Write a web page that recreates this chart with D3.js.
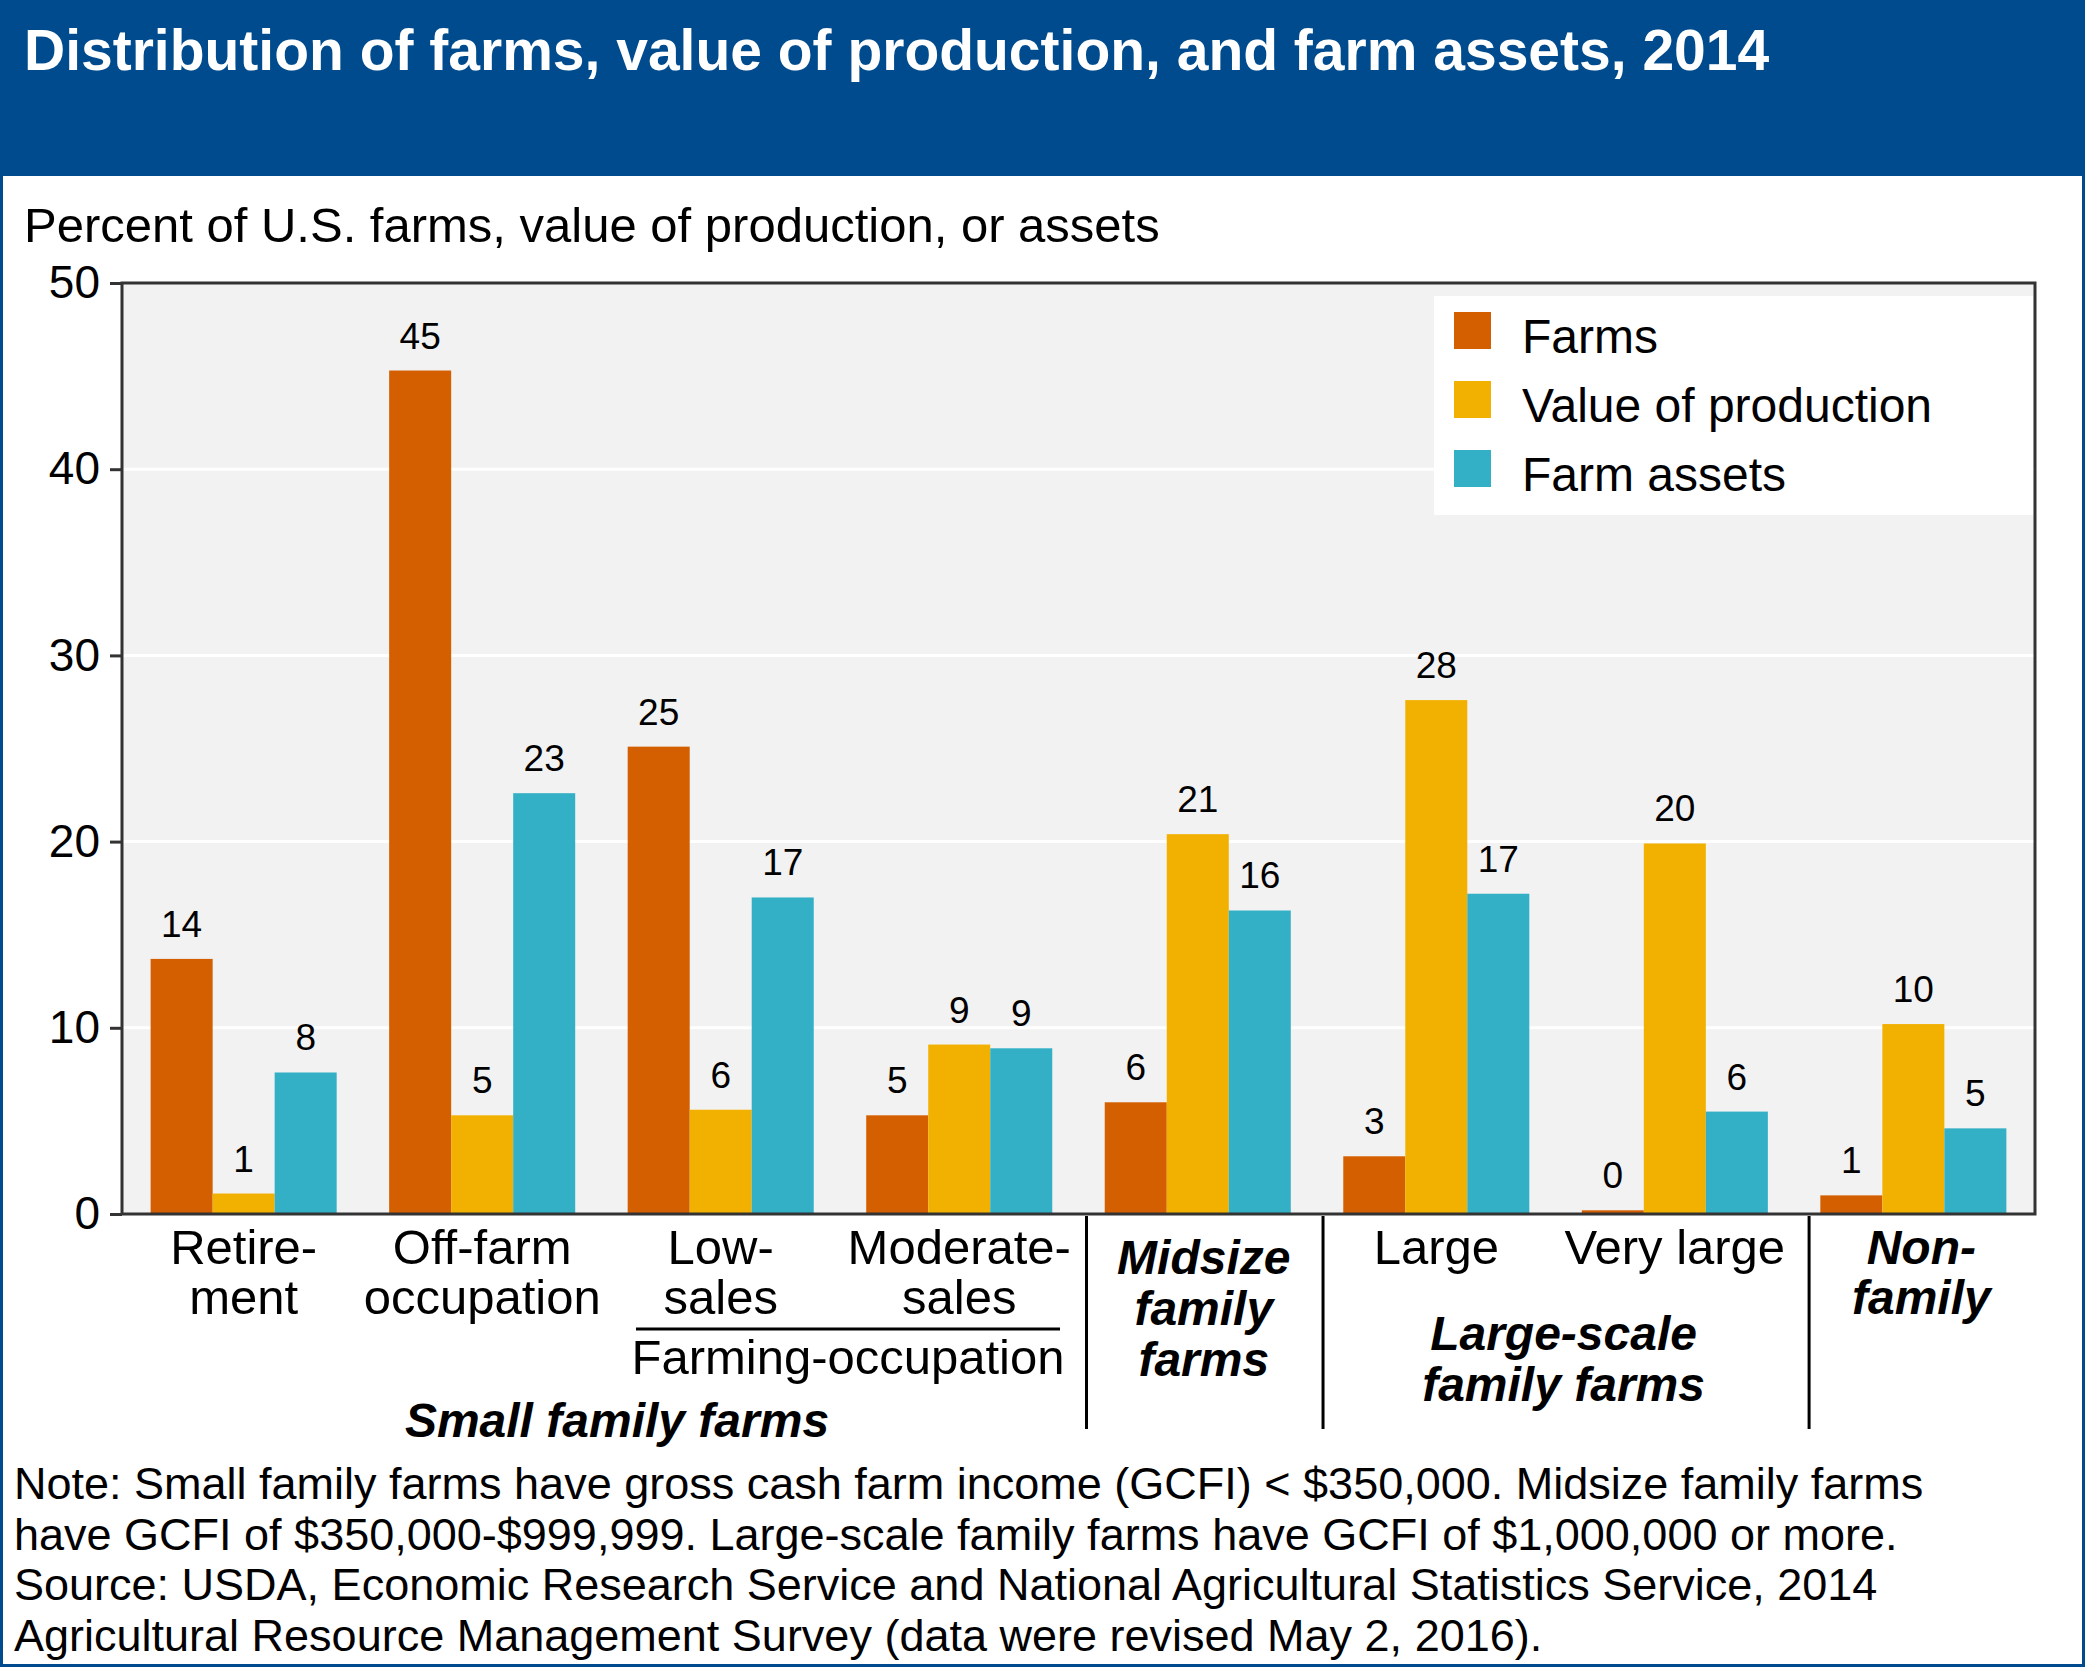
<!DOCTYPE html>
<html><head><meta charset="utf-8">
<script src="https://cdn.jsdelivr.net/npm/d3@7"></script>
<style>body{margin:0;background:#fff}text{font-family:"Liberation Sans",Arial,sans-serif}</style>
</head><body><svg id="c" width="2085" height="1667"></svg>
<script>
const categories=["Retirement","Off-farm occupation","Low-sales","Moderate-sales","Midsize family farms","Large","Very large","Nonfamily"];
const catLines=[["Retire-","ment"],["Off-farm","occupation"],["Low-","sales"],["Moderate-","sales"],[],["Large"],["Very large"],[]];
const seriesNames=["Farms","Value of production","Farm assets"];
const farms=[13.7,45.3,25.1,5.3,6.0,3.1,0.2,1.0];
const valueProd=[1.1,5.3,5.6,9.1,20.4,27.6,19.9,10.2];
const assets=[7.6,22.6,17.0,8.9,16.3,17.2,5.5,4.6];
const farmsLbl=[14,45,25,5,6,3,0,1];
const valueLbl=[1,5,6,9,21,28,20,10];
const assetsLbl=[8,23,17,9,16,17,6,5];
const yTicks=[0,10,20,30,40,50];
const colors=["#D45F00","#F2B100","#33B0C6"];

const svg=d3.select("#c");
const W=2085,H=1667;
svg.append("rect").attr("x",1.5).attr("y",1.5).attr("width",W-3).attr("height",H-3).attr("fill","#fff").attr("stroke","#004B8D").attr("stroke-width",3);
svg.append("rect").attr("width",W).attr("height",176).attr("fill","#004B8D");
svg.append("text").attr("x",24).attr("y",70).attr("fill","#fff").attr("font-size",57).attr("font-weight","bold").text("Distribution of farms, value of production, and farm assets, 2014");
svg.append("text").attr("x",24).attr("y",242).attr("font-size",49).text("Percent of U.S. farms, value of production, or assets");

const L=122,R=2035,T=283,B=1214;
const x=d3.scaleBand().domain(categories).range([L,R]).paddingInner(0.22).paddingOuter(0.12);
const xs=d3.scaleBand().domain(seriesNames).range([0,x.bandwidth()]);
const y=d3.scaleLinear().domain([0,50]).range([B,T]);
svg.append("rect").attr("x",L).attr("y",T).attr("width",R-L).attr("height",B-T).attr("fill","#F2F2F2");
svg.selectAll(".g").data(yTicks.slice(1,-1)).join("line").attr("x1",L).attr("x2",R).attr("y1",d=>y(d)).attr("y2",d=>y(d)).attr("stroke","#fff").attr("stroke-width",3);

const data=[farms,valueProd,assets], lbls=[farmsLbl,valueLbl,assetsLbl];
seriesNames.forEach((s,i)=>{
  const g=svg.append("g");
  g.selectAll("rect").data(categories).join("rect")
    .attr("x",c=>x(c)+xs(s)).attr("width",xs.bandwidth())
    .attr("y",(c,j)=>y(data[i][j])).attr("height",(c,j)=>B-y(data[i][j])).attr("fill",colors[i]);
  g.selectAll("text").data(categories).join("text")
    .attr("x",c=>x(c)+xs(s)+xs.bandwidth()/2).attr("y",(c,j)=>y(data[i][j])-22)
    .attr("text-anchor","middle").attr("font-size",37).text((c,j)=>lbls[i][j]);
});
svg.append("rect").attr("x",L).attr("y",T).attr("width",R-L).attr("height",B-T).attr("fill","none").attr("stroke","#333").attr("stroke-width",3);
const ya=svg.append("g").attr("transform",`translate(${L},0)`).call(d3.axisLeft(y).tickValues(yTicks).tickSize(12).tickPadding(10));
ya.select(".domain").remove();
ya.selectAll("line").attr("stroke","#333").attr("stroke-width",3);
ya.selectAll("text").attr("font-size",46).attr("fill","#000").style("font-family","Liberation Sans, Arial");

categories.forEach((c,j)=>{
  catLines[j].forEach((t,k)=>svg.append("text").attr("x",x(c)+x.bandwidth()/2).attr("y",1264+k*50).attr("text-anchor","middle").attr("font-size",49).text(t));
});
function multi(lines,cx,y0,dy){lines.forEach((t,k)=>svg.append("text").attr("x",cx).attr("y",y0+k*dy).attr("text-anchor","middle").attr("font-size",48).attr("font-weight","bold").attr("font-style","italic").text(t));}
const cx=c=>x(c)+x.bandwidth()/2;
multi(["Midsize","family","farms"],cx(categories[4])+6,1274,51);
multi(["Non-","family"],cx(categories[7])+8,1264,50);
multi(["Large-scale","family farms"],(cx(categories[5])+cx(categories[6]))/2+8,1350,51);
multi(["Small family farms"],617,1437,0);
svg.append("line").attr("x1",636).attr("x2",1060).attr("y1",1329).attr("y2",1329).attr("stroke","#000").attr("stroke-width",3);
svg.append("text").attr("x",848).attr("y",1374).attr("text-anchor","middle").attr("font-size",49).text("Farming-occupation");
[[categories[3],categories[4],8],[categories[4],categories[5],6],[categories[6],categories[7],15]].forEach(([a,b,o])=>{
  const xx=(x(a)+x.bandwidth()+x(b))/2+o;
  svg.append("line").attr("x1",xx).attr("x2",xx).attr("y1",1216).attr("y2",1429).attr("stroke","#000").attr("stroke-width",3);
});

const lg=svg.append("g");
lg.append("rect").attr("x",1434).attr("y",296).attr("width",599).attr("height",219).attr("fill","#fff");
seriesNames.forEach((s,i)=>{
  lg.append("rect").attr("x",1454).attr("y",312+i*69).attr("width",37).attr("height",37).attr("fill",colors[i]);
  lg.append("text").attr("x",1522).attr("y",353+i*69).attr("font-size",48).text(s);
});

const notes=["Note: Small family farms have gross cash farm income (GCFI) < $350,000. Midsize family farms",
"have GCFI of $350,000-$999,999. Large-scale family farms have GCFI of $1,000,000 or more.",
"Source: USDA, Economic Research Service and National Agricultural Statistics Service, 2014",
"Agricultural Resource Management Survey (data were revised May 2, 2016)."];
notes.forEach((t,k)=>svg.append("text").attr("x",14).attr("y",1499+k*50.5).attr("font-size",45).text(t));
</script></body></html>
